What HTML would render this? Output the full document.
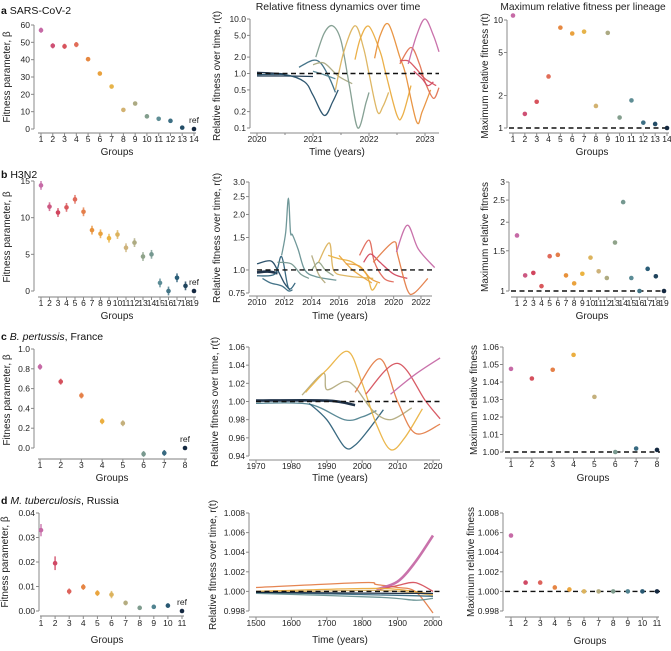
<!DOCTYPE html>
<html><head><meta charset="utf-8">
<style>
html,body{margin:0;padding:0;background:#fff;}
svg{display:block;font-family:"Liberation Sans",Arial,sans-serif;}
</style></head>
<body>
<svg id="fig" width="671" height="651" viewBox="0 0 671 651" xmlns="http://www.w3.org/2000/svg">
<text x="338" y="10" font-size="10.5" text-anchor="middle" fill="#222">Relative fitness dynamics over time</text>
<text x="583" y="10" font-size="10.2" text-anchor="middle" fill="#222">Maximum relative fitness per lineage</text>
<text x="1" y="14" font-size="10.5" fill="#111"><tspan font-weight="bold">a</tspan>  SARS-CoV-2</text>
<text x="1" y="178" font-size="10.5" fill="#111"><tspan font-weight="bold">b</tspan>  H3N2</text>
<text x="1" y="340" font-size="10.5" fill="#111"><tspan font-weight="bold">c</tspan>  <tspan font-style="italic">B. pertussis</tspan>, France</text>
<text x="1" y="504" font-size="10.5" fill="#111"><tspan font-weight="bold">d</tspan>  <tspan font-style="italic">M. tuberculosis</tspan>, Russia</text>
</svg>
<script>
// ---------- data ----------
const betaA=[57,48,47.7,48.7,40.3,32,24.5,11,14.7,7.3,5.9,4.7,0.8,0];
const errA=[1.5,1.5,1.5,1.5,1.2,1.2,1,0.8,0.8,0.6,0.5,0.5,0.4,0];
const maxA=[11,1.35,1.75,3,8.5,7.5,7.8,1.6,7.6,1.25,1.8,1.12,1.09,1.0];
const betaB=[14.4,11.5,10.7,11.4,12.5,10.8,8.3,7.8,7.2,7.7,5.9,6.6,4.7,5.0,1.1,0,1.8,0.7,0];
const errB=[0.6,0.6,0.6,0.6,0.6,0.6,0.6,0.6,0.6,0.6,0.6,0.6,0.6,0.6,0.6,0.6,0.6,0.6,0];
const maxB=[1.75,1.17,1.2,1.05,1.42,1.44,1.17,1.08,1.19,1.4,1.22,1.14,1.63,2.45,1.14,1.0,1.25,1.16,1.0];
const betaC=[0.82,0.67,0.53,0.27,0.25,-0.06,-0.05,0];
const errC=[0.03,0.03,0.03,0.03,0.03,0.03,0.03,0];
const maxC=[1.0475,1.042,1.047,1.0555,1.0315,1.0,1.002,1.0012];
const betaD=[0.033,0.0195,0.008,0.0098,0.0073,0.0067,0.0033,0.0013,0.0017,0.0022,0];
const errD=[0.0025,0.0028,0.0012,0.0012,0.0012,0.0015,0.001,0.0008,0.0008,0.0009,0];
const maxD=[1.0057,1.0009,1.0009,1.0004,1.0002,1.0,1.0,1.0,1.0,1.0,1.0];

const ticksA=[0,10,20,30,40,50,60];
const ticksB=[0,5,10,15];
const ticksC=[0,0.2,0.4,0.6,0.8,1.0];
const ticksD=[0,0.01,0.02,0.03,0.04];
const midTicksA=[0.1,0.2,0.5,1.0,2.0,5.0,10.0];
const midTicksB=[0.75,1.0,1.5,2.0,2.5,3.0];
const midTicksC=[0.94,0.96,0.98,1.00,1.02,1.04,1.06];
const midTicksD=[0.998,1.000,1.002,1.004,1.006,1.008];
const yearsA=[2020,2021,2022,2023];
const yearsB=[2010,2012,2014,2016,2018,2020,2022];
const yearsC=[1970,1980,1990,2000,2010,2020];
const yearsD=[1500,1600,1700,1800,1900,2000];
const rTicksA=[1,2,5,10];
const rTicksB=[1,1.5,2,2.5,3];
const rTicksC=[1.00,1.01,1.02,1.03,1.04,1.05,1.06];
const rTicksD=[0.998,1.000,1.002,1.004,1.006,1.008];

// curves: [colorFraction, [year,value,...]]
const curvesA=[
 [1.0,[2020,1.05,2020.4,1.0,2020.5,0.95]],
 [0.97,[2020,0.9,2020.5,0.9,2021,0.88]],
 [0.92,[2020,0.95,2020.5,0.95,2020.85,0.7,2021.0,0.4,2021.2,0.17,2021.35,0.3,2021.45,0.5]],
 [0.85,[2020.75,1.3,2021.0,1.75,2021.15,1.5,2021.3,0.8,2021.4,0.45]],
 [0.8,[2021.0,1.1,2021.2,0.95,2021.4,0.8]],
 [0.62,[2021.0,1.45,2021.2,1.55,2021.45,0.9,2021.7,0.65]],
 [0.7,[2021.05,2.0,2021.2,5.5,2021.35,7.5,2021.5,4,2021.65,0.6,2021.8,0.1,2021.95,0.3,2022.0,0.45]],
 [0.5,[2021.4,0.5,2021.55,2.5,2021.75,7.5,2021.9,3,2022.0,1.0,2022.15,0.2,2022.25,0.25,2022.35,0.45]],
 [0.42,[2021.75,1.8,2021.85,4.5,2022.0,7.3,2022.2,2.5,2022.3,1.0,2022.5,0.17,2022.6,0.17,2022.75,0.6]],
 [0.33,[2022.1,1.9,2022.2,5,2022.35,8,2022.55,2,2022.65,1.0,2022.85,0.13,2022.95,0.2,2023.1,0.5]],
 [0.25,[2022.55,1.5,2022.75,3,2022.9,1.5,2023.0,0.7,2023.15,0.35,2023.25,0.55]],
 [0.15,[2022.55,1.7,2022.7,1.7,2022.85,1.2,2023.0,0.8,2023.2,0.6]],
 [0.1,[2022.8,1.1,2022.95,0.8,2023.05,0.6,2023.15,0.7]],
 [0.0,[2022.7,1.5,2022.85,5,2023.0,10,2023.15,5,2023.25,2.5]]
];
const curvesB=[
 [1.0,[2010,0.97,2010.8,0.98,2011.5,0.96]],
 [0.93,[2010,1.08,2011,1.12,2011.5,1.0,2012,0.85,2012.4,0.78]],
 [0.88,[2010,0.93,2011.3,0.95,2011.8,1.18,2012.3,0.8,2012.8,0.85]],
 [0.85,[2010.4,0.9,2011,0.85,2011.8,0.82,2012.3,0.77,2012.6,0.78]],
 [0.75,[2011.8,1.2,2012.1,1.6,2012.3,2.45,2012.45,1.6,2012.6,1.55,2013,1.3,2013.5,1.0,2014.3,0.92,2015.8,0.88]],
 [0.72,[2011.5,1.1,2012.5,1.08,2013.2,0.95,2013.8,0.9]],
 [0.66,[2014,1.0,2014.5,1.1,2015,1.0,2015.6,0.93]],
 [0.6,[2014,1.2,2014.5,0.95,2015,0.85]],
 [0.5,[2014.5,1.1,2015.3,1.4,2015.6,1.0,2016.5,0.93,2018.5,0.9]],
 [0.45,[2015.2,1.2,2016,1.15,2017,1.1,2018,0.95,2018.4,0.78,2018.8,0.85]],
 [0.4,[2016,1.2,2017,1.0,2018.4,0.85]],
 [0.38,[2016.5,1.08,2017.5,1.05,2018.3,0.9,2019,0.85]],
 [0.22,[2017.5,1.2,2018.2,1.45,2018.6,1.1,2019.3,0.9,2020,0.86]],
 [0.12,[2017.8,1.1,2018.3,1.22,2019,1.1,2020,0.95,2021,0.9]],
 [0.28,[2018.5,1.1,2020,1.42,2020.3,1.2,2021,0.78,2021.5,0.75,2022.5,0.9]],
 [0.0,[2020.2,1.25,2021,1.75,2021.8,1.3,2023,1.03]]
];
const curvesC=[
 [0.8,[1970,0.998,1985,0.997,1995,0.98,2000,0.983,2004,0.99]],
 [0.88,[1985,0.998,1990,0.98,1995,0.95,1998,0.952,2002,0.97,2006,0.991]],
 [0.6,[1983,1.007,1989,1.031,1990,1.013,1995,1.022,1998,1.016,2003,0.99,2008,0.98,2014,0.993]],
 [0.45,[1984,1.01,1990,1.035,1996,1.055,2000,1.02,2004,0.975,2008,0.947,2012,0.96,2017,0.992]],
 [0.28,[1998,1.01,2005,1.047,2010,1.0,2015,0.965,2022,0.975]],
 [0.15,[2001,1.008,2010,1.042,2018,1.0,2022,0.981]],
 [0.0,[2008,1.008,2015,1.03,2022,1.048]],
 [1.0,[1970,1.001,1990,1.001,1998,0.996]]
];
const curvesD=[
 [0.28,[1500,1.0004,1800,1.0009,1840,1.0007,1900,1.0004,1950,1.0,2000,0.9978]],
 [0.0,[1840,1.0002,1900,1.001,1950,1.003,2000,1.0057]],
 [0.15,[1850,1.0002,1900,1.0006,1950,1.0009,2000,1.0]],
 [0.42,[1500,1.0,1800,1.0003,1900,1.0002,2000,0.9997]],
 [0.52,[1500,0.9999,1850,1.0001,2000,0.9996]],
 [0.75,[1500,0.9998,1850,0.9994,1950,0.9991,2000,0.9993]],
 [0.85,[1500,0.9999,1900,0.9996,2000,0.9995]],
 [1.0,[1500,0.9999,1900,0.9998,2000,0.9998]]
];

// ---------- helpers ----------
const NS="http://www.w3.org/2000/svg";
const svg=document.getElementById('fig');
const TF=8.5, LF=10;
const stops=[[198,106,166],[209,69,94],[224,106,90],[232,145,58],[235,179,64],[205,178,122],[143,163,138],[91,140,150],[42,93,120],[20,40,64]];
function col(f){f=Math.max(0,Math.min(1,f));const p=f*(stops.length-1);const i=Math.min(stops.length-2,Math.floor(p));const t=p-i;const a=stops[i],b=stops[i+1];return 'rgb('+a.map((v,k)=>Math.round(v+(b[k]-v)*t)).join(',')+')';}
function mk(tag,attrs,parent){const e=document.createElementNS(NS,tag);for(const k in attrs)e.setAttribute(k,attrs[k]);(parent||svg).appendChild(e);return e;}
function lin(d0,d1,r0,r1){return v=>r0+(v-d0)/(d1-d0)*(r1-r0);}
function logS(d0,d1,r0,r1){return v=>r0+(Math.log(v)-Math.log(d0))/(Math.log(d1)-Math.log(d0))*(r1-r0);}
function fmt(v,dec){if(dec<0)return String(v);if(dec==='mix')return v===0.75?'0.75':v.toFixed(1);return v.toFixed(dec);}
function yAxis(g,x,y0,y1,ticks,sy,dec,name){
 const l=mk('line',{x1:x,x2:x,y1:y0,y2:y1,stroke:'#888','stroke-width':1},g);
 
 
 ticks.forEach(t=>{const y=sy(t);
  mk('line',{x1:x-3,x2:x,y1:y,y2:y,stroke:'#888','stroke-width':1},g);
  const tx=mk('text',{x:x-4,y:y+3,'font-size':TF,'text-anchor':'end',fill:'#222'},g);
  tx.textContent=fmt(t,dec);
  
  
 });
}
function yLabel(g,x,y,txt){const t=mk('text',{x:0,y:0,'font-size':LF,'text-anchor':'middle',fill:'#222',transform:'translate('+x+','+y+') rotate(-90)'},g);t.textContent=txt;
 
 }
function xLabel(g,x,y,txt){const t=mk('text',{x:x,y:y,'font-size':LF,'text-anchor':'middle',fill:'#222'},g);t.textContent=txt;
 
 }
function groupX(g,x0,x1,axY,n,labY,axisStart){
 const sx=lin(1,n,x0,x1);
 const l=mk('line',{x1:axisStart,x2:x1+2,y1:axY,y2:axY,stroke:'#aaa','stroke-width':1.5},g);
 
 
 for(let i=1;i<=n;i++){const x=sx(i);
  mk('line',{x1:x,x2:x,y1:axY,y2:axY+3,stroke:'#888','stroke-width':1},g);
  const t=mk('text',{x:x,y:labY,'font-size':TF,'text-anchor':'middle',fill:'#222'},g);t.textContent=i;
  
  }
 return sx;
}
function dots(g,vals,errs,sx,sy,name,ref){
 const n=vals.length;
 vals.forEach((v,i)=>{const c=col(i/(n-1));const x=sx(i+1),y=sy(v);
  if(errs&&errs[i]>0){const e=mk('line',{x1:x,x2:x,y1:sy(v+errs[i]),y2:sy(v-errs[i]),stroke:c,'stroke-width':1.6,opacity:0.8},g);
   
   }
  const d=mk('circle',{cx:x,cy:y,r:2.3,fill:c},g);
  
  
 });
 if(ref){const x=sx(n),y=sy(vals[n-1]);const t=mk('text',{x:x,y:y-6,'font-size':TF,'text-anchor':'middle',fill:'#222'},g);t.textContent='ref';
  
  }
}
function dashed(g,x0,x1,y){const l=mk('line',{x1:x0,x2:x1,y1:y,y2:y,stroke:'#111','stroke-width':1.4,'stroke-dasharray':'5,3.5'},g);
 
 }
function smoothPath(pts){let d='M'+pts[0][0].toFixed(1)+','+pts[0][1].toFixed(1);
 for(let i=0;i<pts.length-1;i++){const p0=pts[i-1]||pts[i],p1=pts[i],p2=pts[i+1],p3=pts[i+2]||p2;
  const c1=[p1[0]+(p2[0]-p0[0])/6,p1[1]+(p2[1]-p0[1])/6],c2=[p2[0]-(p3[0]-p1[0])/6,p2[1]-(p3[1]-p1[1])/6];
  d+=' C'+c1.map(v=>v.toFixed(1)).join(',')+' '+c2.map(v=>v.toFixed(1)).join(',')+' '+p2[0].toFixed(1)+','+p2[1].toFixed(1);}
 return d;}
function curves(g,list,sx,sy,thickFrac){
 list.forEach((c,i)=>{const arr=c[1];const pts=[];for(let k=0;k<arr.length;k+=2)pts.push([sx(arr[k]),sy(arr[k+1])]);
  const w=(c[0]===thickFrac)?2.6:1.3;
  const p=mk('path',{d:smoothPath(pts),fill:'none',stroke:col(c[0]),'stroke-width':w,opacity:0.95},g);
  
  });
}
function timeX(g,x0,x1,axY,years,sx,labY,minor){
 const l=mk('line',{x1:x0,x2:x1,y1:axY,y2:axY,stroke:'#888','stroke-width':1},g);
 
 
 years.forEach(yr=>{const x=sx(yr);mk('line',{x1:x,x2:x,y1:axY,y2:axY+3,stroke:'#888'},g);
  const t=mk('text',{x:x,y:labY,'font-size':TF,'text-anchor':'middle',fill:'#222'},g);t.textContent=yr;
  
  });
 if(minor){for(let i=0;i<years.length-1;i++){const x=sx((years[i]+years[i+1])/2);mk('line',{x1:x,x2:x,y1:axY,y2:axY+2,stroke:'#888'},g);}}
}
function grp(name){const g=mk('g',{});return g;}

// ---------- row a ----------
(function(){
 let g=grp('panel-a-beta');
 const sy=lin(0,60,129,25);yAxis(g,34,25,129,ticksA,sy,0,'a-left');
 const sx=groupX(g,41,194,133,betaA.length,142,38);
 dots(g,betaA,errA,sx,sy,'beta',true);
 yLabel(g,10,77,'Fitness parameter, β');xLabel(g,117,155,'Groups');
 g=grp('panel-a-dynamics');
 const my=logS(0.1,10,128,19);const mx=lin(2020,2023,257,425);
 yAxis(g,250,19,128,midTicksA,my,1,'a-mid');
 timeX(g,250,439,133,yearsA,mx,142,true);
 curves(g,curvesA,mx,my,-1);dashed(g,257,439,my(1));
 yLabel(g,220,76,'Relative fitness over time, r(t)');xLabel(g,337,155,'Time (years)');
 g=grp('panel-a-max');
 const ry=logS(1,10,128,20);yAxis(g,507,20,128,rTicksA,ry,0,'a-right');
 const rx=groupX(g,513,667,133,maxA.length,142,509);
 dashed(g,509,667,ry(1));dots(g,maxA,null,rx,ry,'max',false);
 yLabel(g,488,76,'Maximum relative fitness r(t)');xLabel(g,592,155,'Groups');
})();
// ---------- row b ----------
(function(){
 let g=grp('panel-b-beta');
 const sy=lin(0,15,291,181);yAxis(g,34,181,291,ticksB,sy,0,'b-left');
 const sx=groupX(g,41,194,297,betaB.length,306,38);
 dots(g,betaB,errB,sx,sy,'beta',true);
 yLabel(g,10,237,'Fitness parameter, β');xLabel(g,117,319,'Groups');
 g=grp('panel-b-dynamics');
 const my=logS(0.75,3,293,182);const mx=lin(2010,2022,257,421);
 yAxis(g,249,182,293,midTicksB,my,'mix','b-mid');
 timeX(g,249,432,296,yearsB,mx,305,false);
 curves(g,curvesB,mx,my,1.0);dashed(g,257,432,my(1));
 yLabel(g,220,238,'Relative fitness over time, r(t)');xLabel(g,340,319,'Time (years)');
 g=grp('panel-b-max');
 const ry=logS(1,3,291,182);yAxis(g,509,182,291,rTicksB,ry,-1,'b-right');
 const rx=groupX(g,517,664,297,maxB.length,306,511);
 dashed(g,511,666,ry(1));dots(g,maxB,null,rx,ry,'max',false);
 yLabel(g,488,237,'Maximum relative fitness');xLabel(g,592,319,'Groups');
})();
// ---------- row c ----------
(function(){
 let g=grp('panel-c-beta');
 const sy=lin(0,1,448,349);yAxis(g,34,349,448,ticksC,sy,1,'c-left');
 const sx=groupX(g,40,185,459,betaC.length,468,38);
 dots(g,betaC,errC,sx,sy,'beta',true);
 yLabel(g,10,400,'Fitness parameter, β');xLabel(g,112,481,'Groups');
 g=grp('panel-c-dynamics');
 const my=lin(0.94,1.06,456,347);const mx=lin(1970,2020,256,433);
 yAxis(g,249,347,456,midTicksC,my,2,'c-mid');
 timeX(g,249,440,460,yearsC,mx,469,false);
 curves(g,curvesC,mx,my,1.0);dashed(g,256,440,my(1));
 yLabel(g,218,402,'Relative fitness over time, r(t)');xLabel(g,340,481,'Time (years)');
 g=grp('panel-c-max');
 const ry=lin(1,1.06,452,347);yAxis(g,503,347,452,rTicksC,ry,2,'c-right');
 const rx=groupX(g,511,657,458,maxC.length,467,505);
 dashed(g,505,660,ry(1));dots(g,maxC,null,rx,ry,'max',false);
 yLabel(g,477,400,'Maximum relative fitness');xLabel(g,593,481,'Groups');
})();
// ---------- row d ----------
(function(){
 let g=grp('panel-d-beta');
 const sy=lin(0,0.04,611,513);yAxis(g,39,513,611,ticksD,sy,2,'d-left');
 const sx=groupX(g,41,182,616,betaD.length,626,40);
 dots(g,betaD,errD,sx,sy,'beta',true);
 yLabel(g,8,562,'Fitness parameter, β');xLabel(g,107,643,'Groups');
 g=grp('panel-d-dynamics');
 const my=lin(0.998,1.008,611,513);const mx=lin(1500,2000,256,433);
 yAxis(g,249,513,611,midTicksD,my,3,'d-mid');
 timeX(g,249,440,617,yearsD,mx,626,false);
 curves(g,curvesD,mx,my,0.0);dashed(g,256,440,my(1));
 yLabel(g,216,565,'Relative fitness over time, r(t)');xLabel(g,340,643,'Time (years)');
 g=grp('panel-d-max');
 const ry=lin(0.998,1.008,611,513);yAxis(g,503,513,611,rTicksD,ry,3,'d-right');
 const rx=groupX(g,511,657,617,maxD.length,626,505);
 dashed(g,505,660,ry(1));dots(g,maxD,null,rx,ry,'max',false);
 yLabel(g,474,562,'Maximum relative fitness');xLabel(g,590,644,'Groups');
})();
</script>
</body></html>
